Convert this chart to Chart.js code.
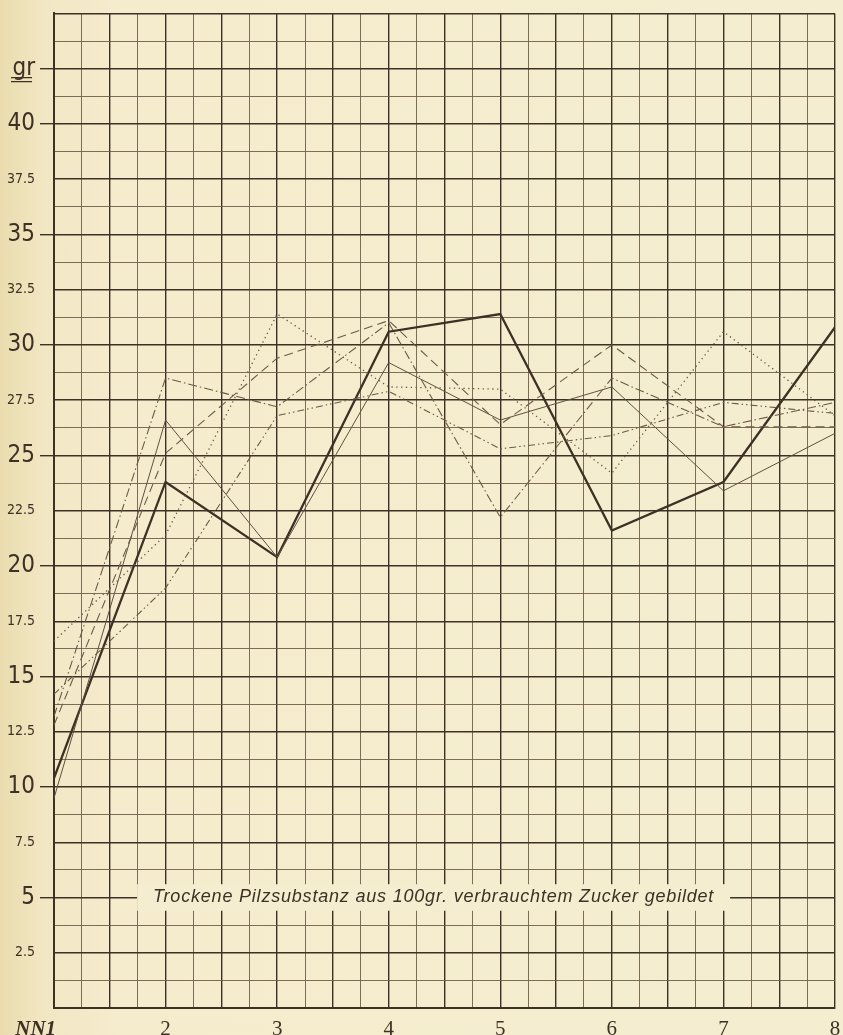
<!DOCTYPE html>
<html>
<head>
<meta charset="utf-8">
<script src="https://cdn.jsdelivr.net/npm/chart.js@4.4.1/dist/chart.umd.min.js"></script>
<style>
  html, body { margin: 0; padding: 0; }
  body { width: 843px; height: 1035px; overflow: hidden;
         background: linear-gradient(to right, #eadcae 0px, #f2e7c4 45px, #f5ecce 120px, #f5edcf 843px); }
  #wrap { position: relative; width: 843px; height: 1035px; }
</style>
</head>
<body>
<div id="wrap"><canvas id="c" width="843" height="1035"></canvas></div>
<script>
// ---- data ----
const categories = [1, 2, 3, 4, 5, 6, 7, 8];
const xTickLabels = ['NN1', '2', '3', '4', '5', '6', '7', '8'];
const yLabelValues = [2.5, 5, 7.5, 10, 12.5, 15, 17.5, 20, 22.5, 25, 27.5, 30, 32.5, 35, 37.5, 40];
const yUnitLabel = 'gr';
const chartNote = 'Trockene Pilzsubstanz aus 100gr. verbrauchtem Zucker gebildet';

const seriesThick     = [10.4, 23.8, 20.4, 30.6, 31.4, 21.6, 23.8, 30.8];
const seriesThin      = [9.5, 26.6, 20.4, 29.2, 26.6, 28.1, 23.4, 26.0];
const seriesDashDot   = [13.2, 28.5, 27.2, 31.0, 22.2, 28.5, 26.3, 27.4];
const seriesDashed    = [12.8, 25.1, 29.4, 31.1, 26.4, 30.0, 26.3, 26.3];
const seriesDashDotDot= [14.2, 19.0, 26.8, 27.9, 25.3, 25.9, 27.4, 26.9];
const seriesDotted    = [16.6, 21.4, 31.4, 28.1, 28.0, 24.2, 30.6, 26.8];

// ---- styles ----
const INK = '#3d3025';
const INK_MINOR = '#6e5e4b';
const LINE_INK = '#6a5a47';
const BG = '#f5edcf';
const LABEL_FONT = '"Liberation Sans Narrow", "DejaVu Sans Condensed", "Liberation Sans", sans-serif';
const SERIF = '"Liberation Serif", "DejaVu Serif", serif';

function pts(vals) { return categories.map((c, i) => ({ x: c, y: vals[i] })); }
function near(a, b) { return Math.abs(a - b) < 1e-6; }
function isHalf(v) { return near(v * 2, Math.round(v * 2)); }

const datasets = [
  { data: pts(seriesDotted), borderColor: LINE_INK, borderWidth: 1.3, borderDash: [1.3, 3.5] },
  { data: pts(seriesDashDotDot), borderColor: LINE_INK, borderWidth: 1.1, borderDash: [7, 3, 1.5, 3, 1.5, 3] },
  { data: pts(seriesDashed), borderColor: LINE_INK, borderWidth: 1.1, borderDash: [9, 5] },
  { data: pts(seriesDashDot), borderColor: LINE_INK, borderWidth: 1.1, borderDash: [9, 3, 1.5, 3] },
  { data: pts(seriesThin), borderColor: '#5f503f', borderWidth: 1.0, borderDash: [] },
  { data: pts(seriesThick), borderColor: INK, borderWidth: 2.3, borderDash: [] }
].map(d => Object.assign({ type: 'line', fill: false, pointRadius: 0, tension: 0 }, d));

const notePlugin = {
  id: 'notePlugin',
  afterDatasetsDraw(chart) {
    const { ctx, scales: { x, y } } = chart;
    const x0 = x.getPixelForValue(1.745), x1 = x.getPixelForValue(7.06);
    const yTop = y.getPixelForValue(5.6), yBot = y.getPixelForValue(4.4);
    ctx.save();
    ctx.fillStyle = BG;
    ctx.fillRect(x0, yTop, x1 - x0, yBot - yTop);
    ctx.fillStyle = INK;
    ctx.font = 'italic 18px "Liberation Sans", "DejaVu Sans", sans-serif';
    if ('letterSpacing' in ctx) ctx.letterSpacing = '0.8px';
    ctx.textAlign = 'center';
    ctx.textBaseline = 'middle';
    ctx.fillText(chartNote, (x0 + x1) / 2, y.getPixelForValue(5));
    ctx.restore();
  },
  afterDraw(chart) {
    const { ctx, scales: { y } } = chart;
    const yy = y.getPixelForValue(42.5);
    ctx.save();
    ctx.strokeStyle = INK;
    ctx.lineWidth = 1.2;
    ctx.beginPath();
    ctx.moveTo(11, yy + 9); ctx.lineTo(32, yy + 9);
    ctx.moveTo(11, yy + 13); ctx.lineTo(32, yy + 13);
    ctx.stroke();
    ctx.restore();
  }
};

new Chart(document.getElementById('c'), {
  type: 'line',
  data: { datasets },
  plugins: [notePlugin],
  options: {
    responsive: false,
    animation: false,
    events: [],
    layout: { padding: { top: 7, right: 8, left: 0, bottom: 0 } },
    plugins: { legend: { display: false }, tooltip: { enabled: false }, title: { display: false } },
    scales: {
      x: {
        type: 'linear', min: 1, max: 8,
        afterFit(s) { s.height = 27; s.paddingLeft = 0; s.paddingRight = 0; },
        afterBuildTicks(s) {
          const t = [];
          for (let v = 1; v <= 8 + 1e-9; v += 0.25) t.push({ value: v });
          s.ticks = t;
        },
        ticks: {
          autoSkip: false, maxRotation: 0, padding: 9, color: INK,
          font: (c) => (c.tick && near(c.tick.value, 1))
            ? { family: SERIF, size: 21, style: 'italic', weight: 'bold' }
            : { family: SERIF, size: 21 },
          callback(v) {
            const i = categories.findIndex(c => near(c, v));
            if (i < 0) return '';
            return i === 0 ? xTickLabels[i] + '       ' : xTickLabels[i];
          }
        },
        grid: {
          drawTicks: false,
          color: (c) => (c.tick && isHalf(c.tick.value)) ? INK : INK_MINOR,
          lineWidth: (c) => (c.tick && isHalf(c.tick.value)) ? 1.4 : 0.9
        },
        border: { display: true, color: INK, width: 2 }
      },
      y: {
        type: 'linear', min: 0, max: 45,
        afterFit(s) { s.width = 54; },
        afterBuildTicks(s) {
          const t = [];
          for (let v = 0; v <= 45 + 1e-9; v += 1.25) t.push({ value: v });
          s.ticks = t;
        },
        ticks: {
          autoSkip: false, padding: 5, color: INK,
          font: (c) => {
            const v = c.tick ? c.tick.value : 0;
            const big = (near(v % 5, 0) && v > 0 && v < 45) || near(v, 42.5);
            return { family: LABEL_FONT, size: big ? 24 : 14 };
          },
          callback(v) {
            if (near(v, 42.5)) return yUnitLabel;
            const i = yLabelValues.findIndex(l => near(l, v));
            return i < 0 ? '' : String(yLabelValues[i]);
          }
        },
        grid: {
          drawTicks: true, tickLength: 14,
          tickColor: (c) => {
            const v = c.tick ? c.tick.value : 0;
            return ((near(v % 5, 0) && v > 0 && v < 45) || near(v, 42.5)) ? INK : 'rgba(0,0,0,0)';
          },
          tickWidth: 1.4,
          color: (c) => (c.tick && near(c.tick.value % 2.5, 0)) ? INK : INK_MINOR,
          lineWidth: (c) => (c.tick && near(c.tick.value % 2.5, 0)) ? 1.4 : 0.9
        },
        border: { display: true, color: INK, width: 2 }
      }
    }
  }
});
</script>
</body>
</html>
